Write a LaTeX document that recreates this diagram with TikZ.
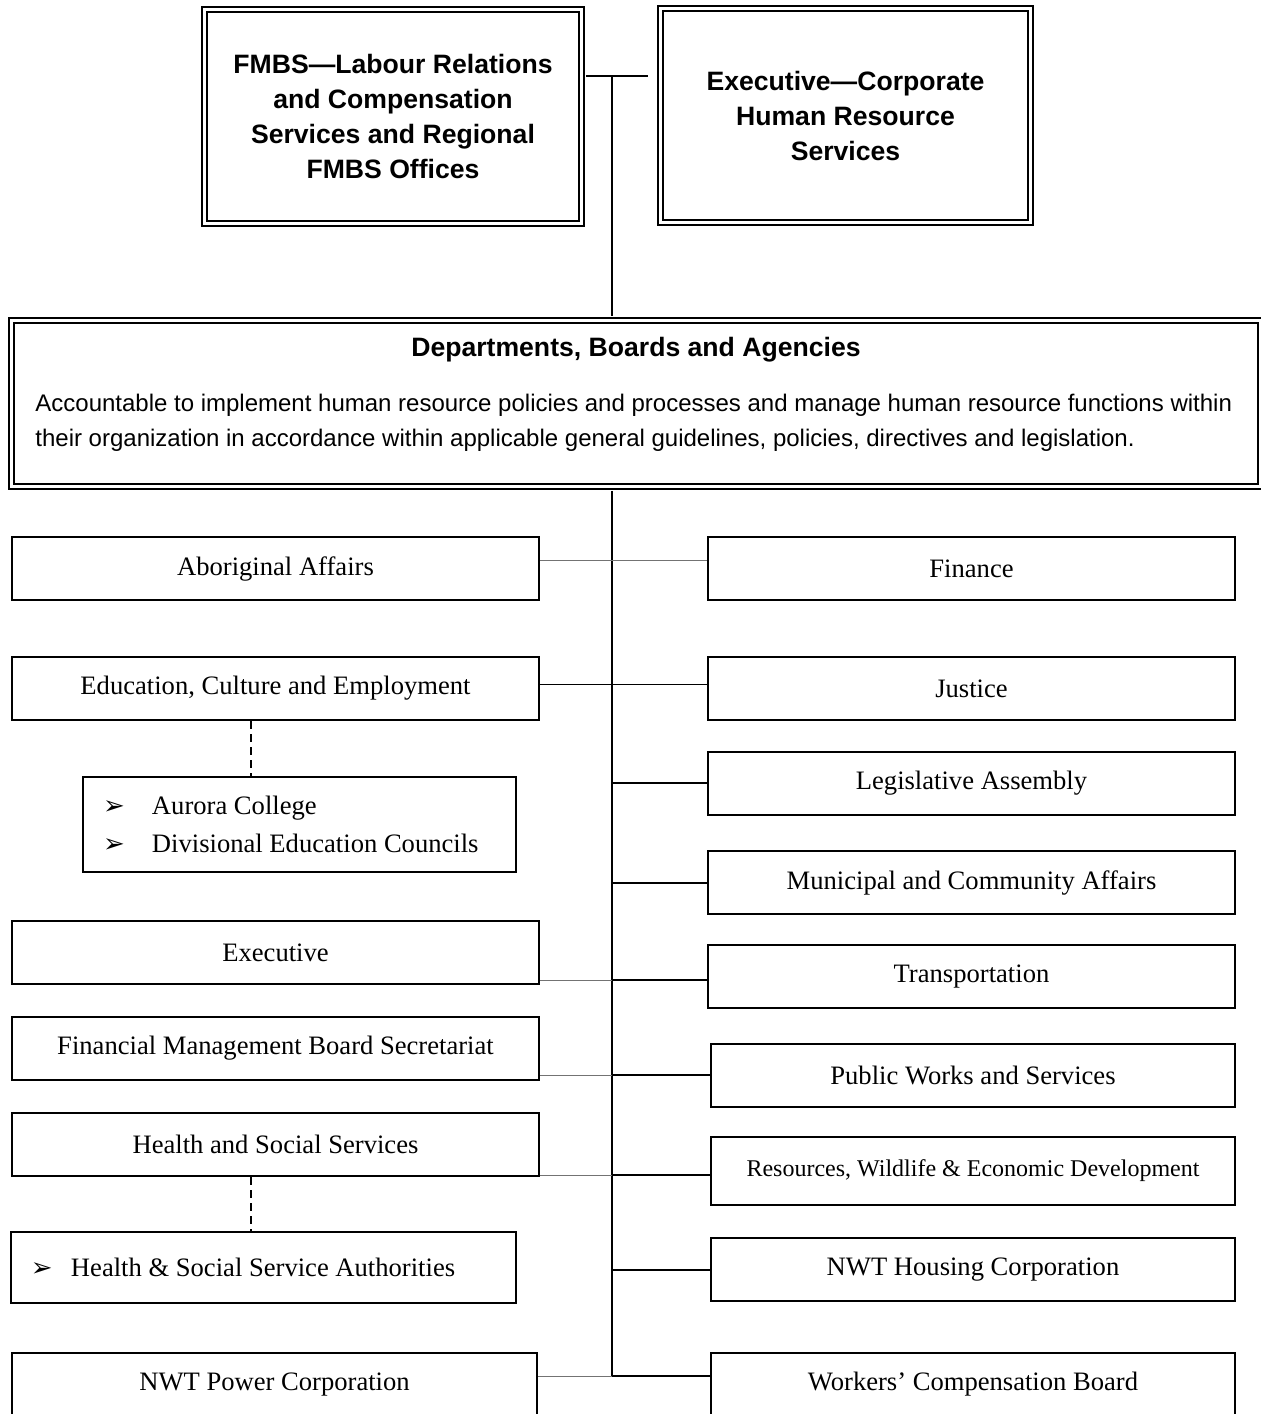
\documentclass[tikz,border=0pt]{standalone}
\usepackage{fontspec}
\setmainfont{Liberation Serif}
\setsansfont{Liberation Sans}
\newfontfamily\symfont{DejaVu Sans}
\usepackage{tikz}
\tikzstyle{dblbox} = [draw, double, line width=0.9pt, double distance=1.6pt, inner sep=0pt, align=center, font=\sffamily\bfseries\fontsize{13.3}{17.5}\selectfont]
\tikzstyle{deptbox} = [draw, line width=1pt, minimum width=263.5pt, minimum height=31.5pt, inner sep=0pt, font=\fontsize{13.3}{15}\selectfont]
\tikzstyle{subbox} = [draw, line width=0.6pt, inner xsep=10pt, inner ysep=0pt, align=flush left, font=\fontsize{13.3}{19}\selectfont]
\tikzstyle{spine} = [draw, line width=1pt]
\tikzstyle{link} = [draw, line width=0.8pt]
\tikzstyle{thinlink} = [draw, line width=0.5pt]
\tikzstyle{greylink} = [draw, black!55, line width=0.5pt]
\tikzstyle{dashline} = [draw, line width=1pt, dash pattern=on 4pt off 2.5pt]
\newcommand{\arrowitem}[2][24.5pt]{\makebox[#1][l]{\symfont\fontsize{13}{13}\selectfont ➢}#2}

\begin{document}
\begin{tikzpicture}[x=0.5pt, y=-0.5pt]
  \useasboundingbox (0,0) rectangle (1261,1414);

  % top offices
  \node[dblbox, minimum width=188.6pt, minimum height=107pt] (fmbs) at (393,116.5)
    {FMBS---Labour Relations\\and Compensation\\Services and Regional\\FMBS Offices};
  \node[dblbox, minimum width=185pt, minimum height=107pt] (exechr) at (845.5,115.5)
    {Executive---Corporate\\Human Resource\\Services};

  % departments, boards and agencies
  \node[dblbox, minimum width=624.6pt, minimum height=83pt] (dba) at (636,403.5) {};
  \node[font=\sffamily\bfseries\fontsize{13.3}{15}\selectfont] (dbatitle) at (636,350) {Departments, Boards and Agencies};
  \node[anchor=west, align=left, inner sep=0pt, font=\sffamily\fontsize{12}{17.5}\selectfont] (dbatext) at (35,423)
    {Accountable to implement human resource policies and processes and manage human resource functions within\\
     their organization in accordance within applicable general guidelines, policies, directives and legislation.};

  % left column
  \node[deptbox] (aboriginal) at (275.5,568.5) {Aboriginal Affairs};
  \node[deptbox] (educ) at (275.5,688.5) {Education, Culture and Employment};
  \node[subbox, text width=196.5pt, minimum height=47.5pt] (aurora) at (299.5,824.5)
    {\arrowitem{Aurora College}\\\arrowitem{Divisional Education Councils}};
  \node[deptbox] (exec) at (275.5,952.5) {Executive};
  \node[deptbox] (fmbssec) at (275.5,1048.5) {Financial Management Board Secretariat};
  \node[deptbox] (health) at (275.5,1144.5) {Health and Social Services};
  \node[subbox, text width=232.5pt, minimum height=35.5pt] (hssauth) at (263.5,1267.5)
    {\arrowitem[20pt]{Health \& Social Service Authorities}};
  \node[deptbox, minimum width=262.5pt] (power) at (274.5,1384.5) {NWT Power Corporation};

  % right column
  \node[deptbox] (finance) at (971.5,568.5) {Finance};
  \node[deptbox] (justice) at (971.5,688.5) {Justice};
  \node[deptbox] (legis) at (971.5,783.5) {Legislative Assembly};
  \node[deptbox] (municipal) at (971.5,882.5) {Municipal and Community Affairs};
  \node[deptbox] (transp) at (971.5,976.5) {Transportation};
  \node[deptbox, minimum width=262pt] (pubworks) at (973,1075.5) {Public Works and Services};
  \node[deptbox, minimum width=262pt, minimum height=34pt, font=\fontsize{12}{13}\selectfont] (resources) at (973,1171)
    {Resources, Wildlife \& Economic Development};
  \node[deptbox, minimum width=262pt] (housing) at (973,1269.5) {NWT Housing Corporation};
  \node[deptbox, minimum width=262pt] (workers) at (973,1384.5) {Workers' Compensation Board};

  % junctions on the spine
  \coordinate (topjoin) at (612,76);
  \coordinate (topend) at (648,76);
  \coordinate (j1) at (612,560);
  \coordinate (j2) at (612,684.5);
  \coordinate (j3) at (612,783);
  \coordinate (j4) at (612,883);
  \coordinate (j5) at (612,980);
  \coordinate (j6) at (612,1075);
  \coordinate (j7) at (612,1175);
  \coordinate (j8) at (612,1270);
  \coordinate (j9) at (612,1376);
  \coordinate[xshift=-12.25pt] (edudrop) at (educ.south);
  \coordinate[xshift=-12.25pt] (healthdrop) at (health.south);

  \draw[link, shorten <=1.7pt] (fmbs.east |- topjoin) -- (topend);
  \draw[spine, shorten >=1.7pt] (topjoin) -- (topjoin |- dba.north);
  \draw[spine, shorten <=1.7pt] (topjoin |- dba.south) -- (j9);

  \draw[greylink] (aboriginal.east |- j1) -- (finance.west |- j1);
  \draw[thinlink] (educ.east |- j2) -- (j2);
  \draw[link] (j2) -- (justice.west |- j2);
  \draw[link] (j3) -- (legis.west |- j3);
  \draw[link] (j4) -- (municipal.west |- j4);
  \draw[greylink] (exec.east |- j5) -- (j5);
  \draw[link] (j5) -- (transp.west |- j5);
  \draw[greylink] (fmbssec.east |- j6) -- (j6);
  \draw[link] (j6) -- (pubworks.west |- j6);
  \draw[greylink] (health.east |- j7) -- (j7);
  \draw[link] (j7) -- (resources.west |- j7);
  \draw[link] (j8) -- (housing.west |- j8);
  \draw[greylink] (power.east |- j9) -- (j9);
  \draw[link] (j9) -- (workers.west |- j9);

  \draw[dashline] (edudrop) -- (edudrop |- aurora.north);
  \draw[dashline] (healthdrop) -- (healthdrop |- hssauth.north);
\end{tikzpicture}
\end{document}
